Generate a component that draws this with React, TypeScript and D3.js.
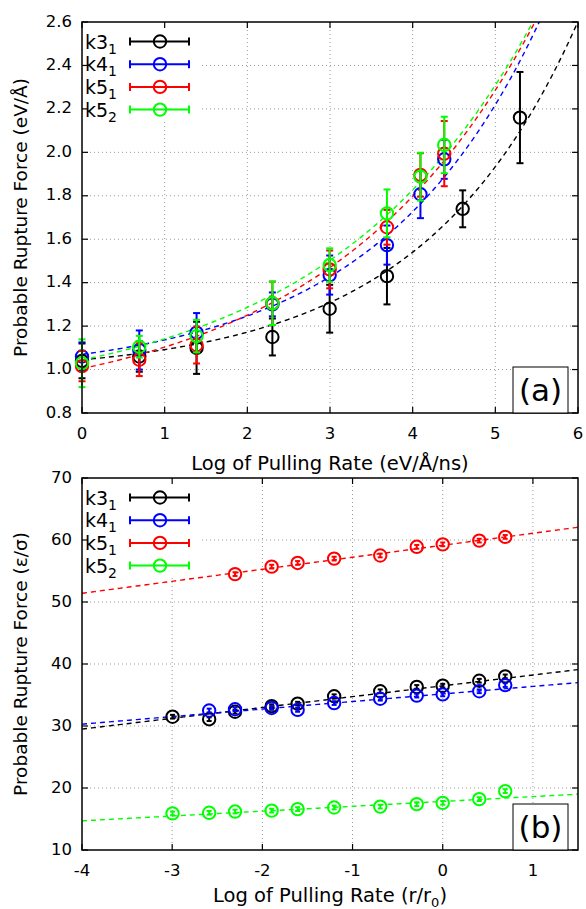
import React, { useRef, useEffect } from 'react';
import * as d3 from 'd3';

// series names and colours
const names = ['k3', 'k4', 'k5', 'k5'];
const subs = ['1', '1', '1', '2'];
const colors = ['#000000', '#0000ff', '#ff0000', '#00ff00'];

// panel (a): log pulling rate (eV/Å/ns) vs rupture force (eV/Å)
const aXBlack = [0, 0.693, 1.386, 2.303, 2.996, 3.689, 4.605, 5.298];
const aXOther = [0, 0.693, 1.386, 2.303, 2.996, 3.689, 4.094, 4.382];
const aBlackY = [1.04, 1.06, 1.10, 1.15, 1.28, 1.43, 1.74, 2.16];
const aBlackE = [0.08, 0.07, 0.12, 0.085, 0.11, 0.13, 0.085, 0.21];
const aBlueY = [1.06, 1.09, 1.17, 1.30, 1.435, 1.573, 1.807, 1.968];
const aBlueE = [0.065, 0.09, 0.09, 0.055, 0.09, 0.09, 0.11, 0.09];
const aRedY = [1.016, 1.045, 1.113, 1.305, 1.461, 1.655, 1.896, 1.994];
const aRedE = [0.07, 0.075, 0.085, 0.10, 0.087, 0.08, 0.10, 0.15];
const aGreenY = [1.029, 1.105, 1.154, 1.305, 1.481, 1.719, 1.888, 2.034];
const aGreenE = [0.11, 0.05, 0.075, 0.10, 0.077, 0.11, 0.11, 0.13];
// fitted curves F = a + b*exp(c*x)
const aFitA = [0.977, 0.967, 0.804, 0.846];
const aFitB = [0.0676, 0.1028, 0.2006, 0.198];
const aFitC = [0.53, 0.5, 0.4, 0.4];
const aXTicks = [0, 1, 2, 3, 4, 5, 6];
const aYTicks = [0.8, 1.0, 1.2, 1.4, 1.6, 1.8, 2.0, 2.2, 2.4, 2.6];

// panel (b): log pulling rate (r/r0) vs rupture force (ε/σ)
const bBlackX = [-2.996, -2.590, -2.303, -1.897, -1.609, -1.204, -0.693, -0.288, 0, 0.405, 0.693];
const bBlackY = [31.5, 31.1, 32.3, 33.2, 33.6, 34.8, 35.6, 36.3, 36.5, 37.3, 38.0];
const bBlueX = [-2.590, -2.303, -1.897, -1.609, -1.204, -0.693, -0.288, 0, 0.405, 0.693];
const bBlueY = [32.5, 32.7, 32.9, 32.6, 33.7, 34.4, 34.9, 35.1, 35.6, 36.6];
const bRedX = [-2.303, -1.897, -1.609, -1.204, -0.693, -0.288, 0, 0.405, 0.693];
const bRedY = [54.5, 55.7, 56.3, 57.0, 57.5, 58.9, 59.3, 59.9, 60.5];
const bGreenX = [-2.996, -2.590, -2.303, -1.897, -1.609, -1.204, -0.693, -0.288, 0, 0.405, 0.693];
const bGreenY = [15.9, 16.0, 16.2, 16.35, 16.6, 16.85, 17.0, 17.4, 17.6, 18.2, 19.5];
const bErr = 0.3;
// linear fits F = m*x + q
const bFitM = [1.745, 1.218, 1.936, 0.782];
const bFitQ = [36.48, 35.17, 59.15, 17.83];
const bXTicks = [-4, -3, -2, -1, 0, 1];
const bYTicks = [10, 20, 30, 40, 50, 60, 70];

const FONT = 'DejaVu Sans, sans-serif';

type Pt = { x: number; y: number; e: number };

const App = () => {
  const ref = useRef<SVGSVGElement>(null);

  useEffect(() => {
    if (!ref.current) return;
    const svg = d3.select(ref.current);
    svg.selectAll('*').remove();

    const left = 82, right = 578;

    const drawPanel = (opts: {
      id: string; top: number; bottom: number;
      xDomain: [number, number]; yDomain: [number, number];
      xTicks: number[]; yTicks: number[]; yFmt: (v: number) => string;
      series: Pt[][]; curve: (i: number, x: number) => number;
      yTitle: string; xTitle: (t: d3.Selection<SVGTextElement, unknown, null, undefined>) => void;
      xTitleY: number; label: string; capW: number;
    }) => {
      const x = d3.scaleLinear().domain(opts.xDomain).range([left, right]);
      const y = d3.scaleLinear().domain(opts.yDomain).range([opts.bottom, opts.top]);
      const g = svg.append('g');

      g.append('clipPath').attr('id', 'clip' + opts.id)
        .append('rect').attr('x', left).attr('y', opts.top)
        .attr('width', right - left).attr('height', opts.bottom - opts.top);

      // grid (dotted)
      g.selectAll('.vg').data(opts.xTicks.filter(d => d !== opts.xDomain[0] && d !== opts.xDomain[1])).join('line')
        .attr('x1', d => x(d)).attr('x2', d => x(d))
        .attr('y1', opts.top).attr('y2', opts.bottom)
        .attr('stroke', '#999').attr('stroke-width', 1).attr('stroke-dasharray', '1,3');
      g.selectAll('.hg').data(opts.yTicks.filter(d => d !== opts.yDomain[0] && d !== opts.yDomain[1])).join('line')
        .attr('x1', left).attr('x2', right)
        .attr('y1', d => y(d)).attr('y2', d => y(d))
        .attr('stroke', '#999').attr('stroke-width', 1).attr('stroke-dasharray', '1,3');

      // legend background
      g.append('rect').attr('x', left + 1).attr('y', opts.top + 1)
        .attr('width', 118).attr('height', 98).attr('fill', 'white');

      // ticks on all four sides
      const tl = 6;
      opts.xTicks.forEach(t => {
        g.append('line').attr('x1', x(t)).attr('x2', x(t)).attr('y1', opts.bottom).attr('y2', opts.bottom - tl)
          .attr('stroke', 'black').attr('stroke-width', 1.2);
        g.append('line').attr('x1', x(t)).attr('x2', x(t)).attr('y1', opts.top).attr('y2', opts.top + tl)
          .attr('stroke', 'black').attr('stroke-width', 1.2);
        g.append('text').attr('x', x(t)).attr('y', opts.bottom + 21)
          .attr('text-anchor', 'middle').attr('dominant-baseline', 'middle')
          .attr('font-family', FONT).attr('font-size', 16.5).text(t < 0 ? '-' + Math.abs(t) : String(t));
      });
      opts.yTicks.forEach(t => {
        g.append('line').attr('x1', left).attr('x2', left + tl).attr('y1', y(t)).attr('y2', y(t))
          .attr('stroke', 'black').attr('stroke-width', 1.2);
        g.append('line').attr('x1', right).attr('x2', right - tl).attr('y1', y(t)).attr('y2', y(t))
          .attr('stroke', 'black').attr('stroke-width', 1.2);
        g.append('text').attr('x', 72).attr('y', y(t))
          .attr('text-anchor', 'end').attr('dominant-baseline', 'middle')
          .attr('font-family', FONT).attr('font-size', 16.5).text(opts.yFmt(t));
      });

      // fitted curves
      const xs = d3.range(0, 201).map(i => opts.xDomain[0] + (opts.xDomain[1] - opts.xDomain[0]) * i / 200);
      const line = d3.line<[number, number]>().x(d => x(d[0])).y(d => y(d[1]));
      opts.series.forEach((_, i) => {
        g.append('path')
          .attr('clip-path', `url(#clip${opts.id})`)
          .attr('d', line(xs.map(v => [v, opts.curve(i, v)] as [number, number])))
          .attr('fill', 'none').attr('stroke', colors[i]).attr('stroke-width', 1.4)
          .attr('stroke-dasharray', '5,4');
      });

      // points with error bars
      opts.series.forEach((pts, i) => {
        const s = g.append('g').attr('stroke', colors[i]).attr('fill', 'none').attr('stroke-width', 2);
        pts.forEach(p => {
          const cx = x(p.x), y1 = y(p.y - p.e), y2 = y(p.y + p.e);
          s.append('line').attr('x1', cx).attr('x2', cx).attr('y1', y1).attr('y2', y2);
          s.append('line').attr('x1', cx - opts.capW).attr('x2', cx + opts.capW).attr('y1', y1).attr('y2', y1);
          s.append('line').attr('x1', cx - opts.capW).attr('x2', cx + opts.capW).attr('y1', y2).attr('y2', y2);
          s.append('circle').attr('cx', cx).attr('cy', y(p.y)).attr('r', 6.2);
        });
      });

      // legend
      names.forEach((n, i) => {
        const ly = opts.top + 19.5 + i * 22.7;
        const t = g.append('text').attr('x', 85).attr('y', ly + 7)
          .attr('font-family', FONT).attr('font-size', 19).attr('fill', 'black');
        t.append('tspan').text(n);
        t.append('tspan').attr('font-size', 14).attr('dy', 5).text(subs[i]);
        const s = g.append('g').attr('stroke', colors[i]).attr('fill', 'none').attr('stroke-width', 2);
        s.append('line').attr('x1', 130).attr('x2', 189).attr('y1', ly).attr('y2', ly);
        s.append('line').attr('x1', 130).attr('x2', 130).attr('y1', ly - 4).attr('y2', ly + 4);
        s.append('line').attr('x1', 189).attr('x2', 189).attr('y1', ly - 4).attr('y2', ly + 4);
        s.append('circle').attr('cx', 160).attr('cy', ly).attr('r', 6.2);
      });

      // frame
      g.append('rect').attr('x', left).attr('y', opts.top)
        .attr('width', right - left).attr('height', opts.bottom - opts.top)
        .attr('fill', 'none').attr('stroke', 'black').attr('stroke-width', 1.5);

      // panel label
      g.append('rect').attr('x', 513).attr('y', opts.bottom - 46).attr('width', 55).attr('height', 46)
        .attr('fill', 'white').attr('stroke', 'black').attr('stroke-width', 1);
      g.append('text').attr('x', 540.5).attr('y', opts.bottom - 12)
        .attr('text-anchor', 'middle').attr('font-family', FONT).attr('font-size', 31).text(opts.label);

      // axis titles
      g.append('text')
        .attr('transform', `translate(22,${(opts.top + opts.bottom) / 2}) rotate(-90)`)
        .attr('text-anchor', 'middle').attr('dominant-baseline', 'middle')
        .attr('font-family', FONT).attr('font-size', 18.5).text(opts.yTitle);
      const xt = g.append('text').attr('x', (left + right) / 2).attr('y', opts.xTitleY)
        .attr('text-anchor', 'middle').attr('font-family', FONT).attr('font-size', 19.5);
      opts.xTitle(xt);
    };

    const zip = (xs: number[], ys: number[], es: number[] | number): Pt[] =>
      xs.map((v, i) => ({ x: v, y: ys[i], e: Array.isArray(es) ? es[i] : es }));

    drawPanel({
      id: 'a', top: 22, bottom: 413,
      xDomain: [0, 6], yDomain: [0.8, 2.6],
      xTicks: aXTicks, yTicks: aYTicks, yFmt: v => v.toFixed(1),
      series: [
        zip(aXBlack, aBlackY, aBlackE),
        zip(aXOther, aBlueY, aBlueE),
        zip(aXOther, aRedY, aRedE),
        zip(aXOther, aGreenY, aGreenE),
      ],
      curve: (i, v) => aFitA[i] + aFitB[i] * Math.exp(aFitC[i] * v),
      yTitle: 'Probable Rupture Force (eV/Å)',
      xTitle: t => { t.text('Log of Pulling Rate (eV/Å/ns)'); },
      xTitleY: 470, label: '(a)', capW: 3.5,
    });

    drawPanel({
      id: 'b', top: 478, bottom: 850,
      xDomain: [-4, 1.5], yDomain: [10, 70],
      xTicks: bXTicks, yTicks: bYTicks, yFmt: v => String(v),
      series: [
        zip(bBlackX, bBlackY, bErr),
        zip(bBlueX, bBlueY, bErr),
        zip(bRedX, bRedY, bErr),
        zip(bGreenX, bGreenY, bErr),
      ],
      curve: (i, v) => bFitM[i] * v + bFitQ[i],
      yTitle: 'Probable Rupture Force (ε/σ)',
      xTitle: t => {
        t.append('tspan').text('Log of Pulling Rate (r/r');
        t.append('tspan').attr('font-size', 13).attr('dy', 5).text('0');
        t.append('tspan').attr('dy', -5).text(')');
      },
      xTitleY: 902, label: '(b)', capW: 2.5,
    });
  }, []);

  return (
    <svg ref={ref} width={586} height={909}
      style={{ position: 'absolute', left: 0, top: 0, background: 'white' }} />
  );
};

export default App;
